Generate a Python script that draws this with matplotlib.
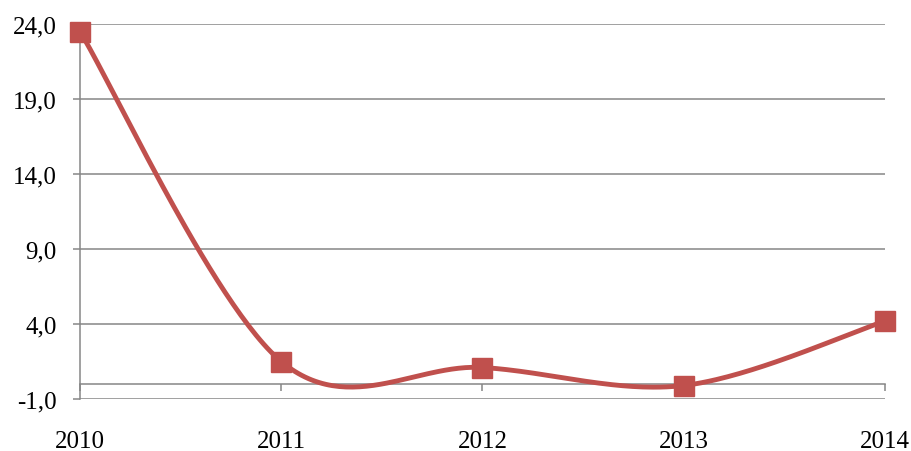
import numpy as np
import matplotlib
matplotlib.use("Agg")
import matplotlib.pyplot as plt

years = ["2010", "2011", "2012", "2013", "2014"]
values = [23.5, 1.5, 1.1, -0.1, 4.2]
yticks = [-1.0, 4.0, 9.0, 14.0, 19.0, 24.0]
ytick_labels = ["-1,0", "4,0", "9,0", "14,0", "19,0", "24,0"]

color = "#C0504D"
grid_color = "#868686"

plt.rcParams["font.family"] = ["Liberation Serif", "DejaVu Serif"]

fig = plt.figure(figsize=(9.12, 4.52), dpi=100)
ax = fig.add_axes([80/912, 52/452, (885-80)/912, (400-25)/452])

x = np.arange(len(values), dtype=float)
y = np.array(values, dtype=float)

# Excel-like smoothed line (Catmull-Rom as cubic Bezier)
P = np.column_stack([x, y])
Pext = np.vstack([P[0], P, P[-1]])
curve = []
t = np.linspace(0, 1, 60)
for i in range(len(P) - 1):
    p0, p1, p2, p3 = Pext[i], Pext[i+1], Pext[i+2], Pext[i+3]
    c1 = p1 + (p2 - p0) / 6.0
    c2 = p2 - (p3 - p1) / 6.0
    seg = ((1-t)**3)[:, None]*p1 + (3*(1-t)**2*t)[:, None]*c1 + (3*(1-t)*t**2)[:, None]*c2 + (t**3)[:, None]*p2
    curve.append(seg)
curve = np.vstack(curve)

ax.plot(curve[:, 0], curve[:, 1], color=color, lw=3.5, solid_capstyle="round", zorder=3, clip_on=False)
ax.plot(x, y, linestyle="none", marker="s", markersize=14.5, color=color, zorder=4, clip_on=False)

for s in ["top", "right"]:
    ax.spines[s].set_visible(False)
ax.spines["left"].set_color(grid_color)
ax.spines["left"].set_linewidth(1.1)
ax.spines["bottom"].set_position(("data", 0))
ax.spines["bottom"].set_color(grid_color)
ax.spines["bottom"].set_linewidth(1.1)

ax.set_xlim(0, 4)
ax.set_ylim(-1, 24)
ax.set_yticks(yticks)
ax.set_yticklabels(ytick_labels)
ax.set_xticks(x)
ax.set_xticklabels(years)

ax.yaxis.grid(True, color=grid_color, lw=1.1)
ax.set_axisbelow(True)

ax.tick_params(axis="y", length=5, width=1.1, color=grid_color, pad=12, labelcolor="black", labelsize=18)
ax.tick_params(axis="x", length=5, width=1.1, color=grid_color, pad=28, labelcolor="black", labelsize=18)

fig.savefig("out.png", dpi=100)
